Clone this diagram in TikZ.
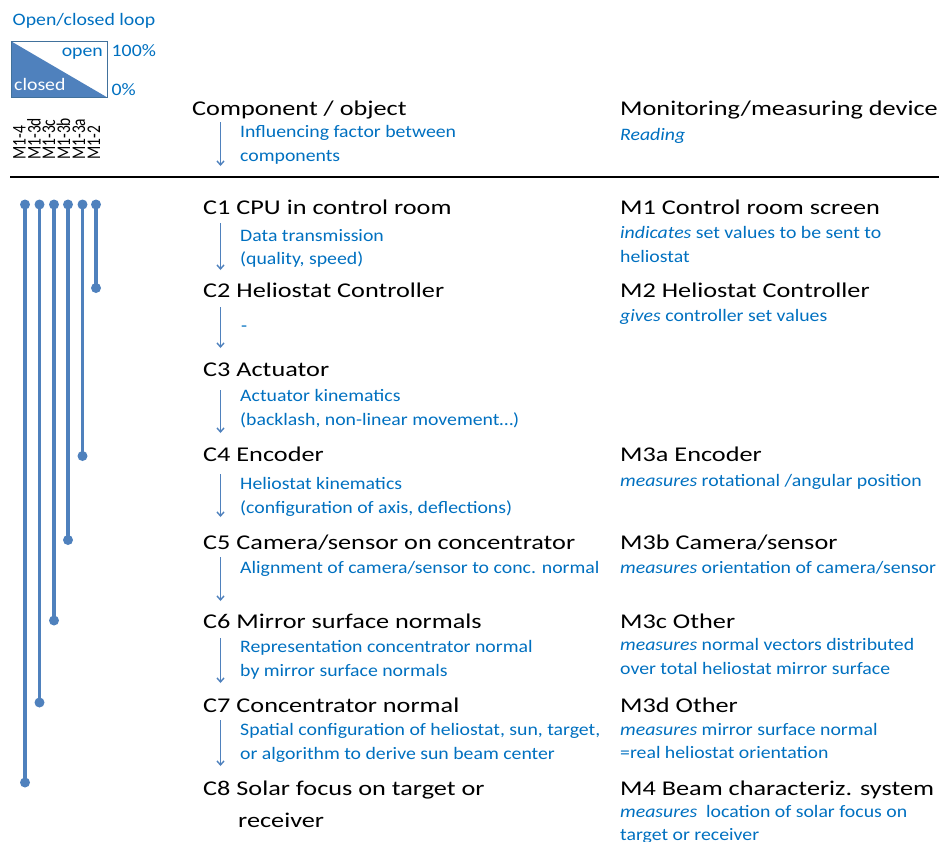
\documentclass[tikz,border=0pt]{standalone}
\usepackage{fontspec}
\setmainfont{Carlito}
\newfontfamily\bigf{Carlito}[FakeStretch=1.25]
\newfontfamily\smallf{Carlito}[FakeStretch=1.13]
\usetikzlibrary{arrows.meta}
\definecolor{tblue}{HTML}{0070C0}
\definecolor{lblue}{HTML}{4F81BD}
\definecolor{bdr}{HTML}{41719C}
\begin{document}
\begin{tikzpicture}[x=1pt,y=-1pt,
  big/.style={font=\bigf\fontsize{21}{25}\selectfont, anchor=base west, inner sep=0pt, text=black},
  small/.style={font=\smallf\fontsize{17.5}{24}\selectfont, anchor=base west, inner sep=0pt, text=tblue},
  leg/.style={font=\smallf\fontsize{17.5}{24}\selectfont, inner sep=0pt, text=tblue},
  vlab/.style={font=\fontsize{15.5}{18}\selectfont, anchor=base west, inner sep=0pt, rotate=90, text=black},
  infl/.style={draw=lblue, line width=1.4pt, -{Straight Barb[length=4pt,width=7pt]}},
  loopline/.style={draw=lblue, line width=3.5pt},
  dot/.style={circle, fill=lblue, inner sep=0pt, minimum size=10pt}]
\useasboundingbox (0,0) rectangle (939,841);

% legend
\node[leg, anchor=base west] (legtitle) at (12.5,25) {Open/closed loop};
\fill[lblue] (11.5,41.5) -- (106.5,97) -- (11.5,97) -- cycle;
\draw[draw=bdr, line width=1pt] (11,41) rectangle (107,97.5);
\node[leg, anchor=base east] (open) at (103,56) {open};
\node[leg, anchor=base west, text=white] (closed) at (14,90.5) {closed};
\node[leg, anchor=base west] (p100) at (111.5,56) {100\%};
\node[leg, anchor=base west] (p0) at (111.5,95) {0\%};

% rotated labels
\node[vlab] (l4) at (25.5,160) {\scalebox{1}[1.25]{M1-4}};
\node[vlab] (l3d) at (40.5,160) {\scalebox{1}[1.25]{M1-3d}};
\node[vlab] (l3c) at (55,160) {\scalebox{1}[1.25]{M1-3c}};
\node[vlab] (l3b) at (70,160) {\scalebox{1}[1.25]{M1-3b}};
\node[vlab] (l3a) at (85,160) {\scalebox{1}[1.25]{M1-3a}};
\node[vlab] (l2) at (100,160) {\scalebox{1}[1.25]{M1-2}};

% headers
\node[big] (hcomp) at (192,115) {Component / object};
\node[small] (hinf1) at (240,137) {Influencing factor between};
\node[small] (hinf2) at (240,161) {components};
\node[big] (hmon) at (620,115) {Monitoring/measuring device};
\node[small] (hread) at (620,140) {\itshape Reading};
\coordinate (ha1) at (220.5,122);
\coordinate (ha2) at (220.5,166);
\draw[infl] (ha1) -- (ha2);

\coordinate (rl) at (10,177);
\coordinate (rr) at (939,177);
\draw[line width=1.8pt] (rl) -- (rr);

% loop lines
\foreach \n/\x/\yb in {a/25/782.5, b/39.5/702.5, c/54/620.5, d/68/540, e/82.5/456, f/96/288}{
  \node[dot] (t\n) at (\x,204.5) {};
  \node[dot] (b\n) at (\x,\yb) {};
  \draw[loopline] (t\n.center) -- (b\n.center);
}

% components
\node[big] (c1) at (203,214) {C1 CPU in control room};
\node[big] (c2) at (203,297.5) {C2 Heliostat Controller};
\node[big] (c3) at (203,376.5) {C3 Actuator};
\node[big] (c4) at (203,461.5) {C4 Encoder};
\node[big] (c5) at (203,549.5) {C5 Camera/sensor on concentrator};
\node[big] (c6) at (203,628.5) {C6 Mirror surface normals};
\node[big] (c7) at (203,712.5) {C7 Concentrator normal};
\node[big] (c8) at (203,795.5) {C8 Solar focus on target or};
\node[big] (c8b) at (238,827.5) {receiver};

% influence texts
\node[small] (i1a) at (240,241) {Data transmission};
\node[small] (i1b) at (240,264.5) {(quality, speed)};
\node[small] (i2a) at (241,331) {-};
\node[small] (i3a) at (240,401) {Actuator kinematics};
\node[small] (i3b) at (240,425) {(backlash, non-linear movement…)};
\node[small] (i4a) at (240,489) {Heliostat kinematics};
\node[small] (i4b) at (240,513) {(configuration of axis, deflections)};
\node[small] (i5a) at (240,573) {Alignment of camera/sensor to conc. normal};
\node[small] (i6a) at (240,652) {Representation concentrator normal};
\node[small] (i6b) at (240,676) {by mirror surface normals};
\node[small] (i7a) at (240,735) {Spatial configuration of heliostat, sun, target,};
\node[small] (i7b) at (240,759) {or algorithm to derive sun beam center};

% arrows
\foreach \t/\b/\n in {223/270/1, 307/348/2, 390/433/3, 474/517/4, 557/601/5, 638/683/6, 720/766/7}{
  \coordinate (as\n) at (220.5,\t);
  \coordinate (ae\n) at (220.5,\b);
  \draw[infl] (as\n) -- (ae\n);
}

% measuring devices
\node[big] (m1) at (620,214) {M1 Control room screen};
\node[small] (m1a) at (620,238) {\textit{indicates} set values to be sent to};
\node[small] (m1b) at (620,262) {heliostat};
\node[big] (m2) at (620,297.5) {M2 Heliostat Controller};
\node[small] (m2a) at (620,321) {\textit{gives} controller set values};
\node[big] (m3a) at (620,461.5) {M3a Encoder};
\node[small] (m3aa) at (620,486) {\textit{measures} rotational /angular position};
\node[big] (m3b) at (620,549.5) {M3b Camera/sensor};
\node[small] (m3ba) at (620,573) {\textit{measures} orientation of camera/sensor};
\node[big] (m3c) at (620,628.5) {M3c Other};
\node[small] (m3ca) at (620,650) {\textit{measures} normal vectors distributed};
\node[small] (m3cb) at (620,674) {over total heliostat mirror surface};
\node[big] (m3d) at (620,712.5) {M3d Other};
\node[small] (m3da) at (620,735) {\textit{measures} mirror surface normal};
\node[small] (m3db) at (620,758) {=real heliostat orientation};
\node[big] (m4) at (620,795.5) {M4 Beam characteriz. system};
\node[small] (m4a) at (620,817) {\textit{measures}\ \ location of solar focus on};
\node[small] (m4b) at (620,840) {target or receiver};
\end{tikzpicture}
\end{document}
